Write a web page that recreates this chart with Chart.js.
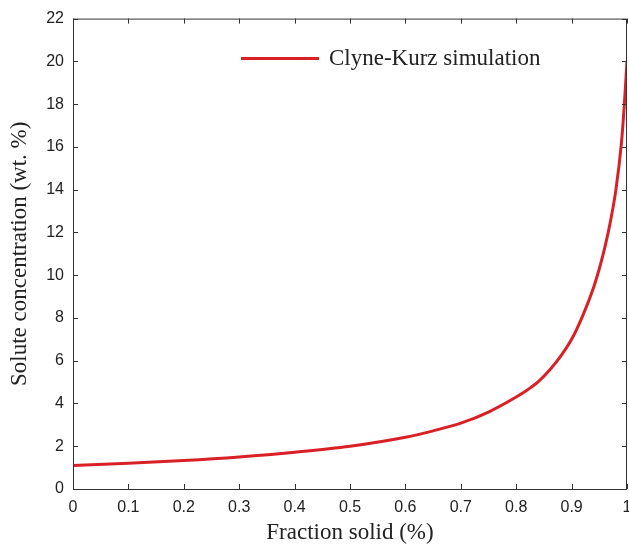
<!DOCTYPE html>
<html>
<head>
<meta charset="utf-8">
<script src="https://cdn.jsdelivr.net/npm/chart.js@4/dist/chart.umd.min.js"></script>
<style>
  html, body { margin: 0; padding: 0; background: #fff; }
  #wrap { width: 629px; height: 544px; }
</style>
</head>
<body>
<div id="wrap"><canvas id="chart"></canvas></div>
<script>
// values
const fractionSolid = [0, 0.1, 0.2, 0.3, 0.4, 0.5, 0.6, 0.65, 0.7, 0.75, 0.8, 0.82, 0.84, 0.86, 0.88, 0.9, 0.92, 0.94, 0.95, 0.96, 0.97, 0.98, 0.99, 0.995, 1.0]
const concentration = [1.1, 1.2, 1.33, 1.5, 1.72, 2.0, 2.42, 2.72, 3.08, 3.6, 4.3, 4.63, 5.02, 5.55, 6.2, 7.0, 8.1, 9.45, 10.3, 11.3, 12.5, 14.0, 16.2, 17.9, 20.0]
const seriesLabel = 'Clyne-Kurz simulation'
const xTitle = 'Fraction solid (%)'
const yTitle = 'Solute concentration (wt. %)'

const lineColor = '#d92027'
const frameColor = '#333'
const tickFont = { family: '"Liberation Sans", Arial, sans-serif', size: 16 }
const titleFont = { family: '"Liberation Serif", serif', size: 23, lineHeight: 1 }

// box around the plot with ticks pointing inward on all four sides
const framePlugin = {
    id: 'frame',
    afterDraw (chart) {
        const { ctx, chartArea: a, scales } = chart
        const len = 5
        ctx.save()
        ctx.strokeStyle = frameColor
        ctx.lineWidth = 1
        ctx.strokeRect(a.left + 0.5, a.top + 0.5, a.right - a.left - 1, a.bottom - a.top)
        ctx.beginPath()
        scales.x.ticks.forEach(t => {
            const px = Math.round(scales.x.getPixelForValue(t.value)) + 0.5
            ctx.moveTo(px, a.bottom); ctx.lineTo(px, a.bottom - len)
            ctx.moveTo(px, a.top); ctx.lineTo(px, a.top + len)
        })
        scales.y.ticks.forEach(t => {
            const py = Math.round(scales.y.getPixelForValue(t.value)) + 0.5
            ctx.moveTo(a.left, py); ctx.lineTo(a.left + len, py)
            ctx.moveTo(a.right, py); ctx.lineTo(a.right - len, py)
        })
        ctx.stroke()

        // legend
        const ds = chart.data.datasets[0]
        const ly = a.top + 40
        ctx.strokeStyle = ds.borderColor
        ctx.lineWidth = 3
        ctx.beginPath()
        ctx.moveTo(a.left + 168, ly)
        ctx.lineTo(a.left + 246, ly)
        ctx.stroke()
        ctx.fillStyle = '#222'
        ctx.font = '23px "Liberation Serif", serif'
        ctx.textBaseline = 'middle'
        ctx.fillText(ds.label, a.left + 256, ly)
        ctx.restore()
    }
}

const ctx = document.getElementById('chart').getContext('2d')
new Chart(ctx, {
    type: 'line',
    data: {
        datasets: [
            {
                label: seriesLabel,
                data: fractionSolid.map((x, i) => ({ x: x, y: concentration[i] })),
                borderColor: lineColor,
                borderWidth: 3,
                pointRadius: 0,
                cubicInterpolationMode: 'monotone',
                fill: false
            }
        ]
    },
    options: {
        responsive: true,
        maintainAspectRatio: false,
        animation: false,
        layout: { padding: { top: 17, right: 2, bottom: 0, left: 0 } },
        plugins: {
            legend: { display: false },
            tooltip: { enabled: false }
        },
        scales: {
            x: {
                type: 'linear',
                min: 0,
                max: 1,
                afterFit: s => { s.height = 55; s.paddingLeft = 0; s.paddingRight = 0 },
                grid: { display: false, drawTicks: false },
                border: { display: false },
                ticks: {
                    stepSize: 0.1,
                    padding: 9,
                    color: '#222',
                    font: tickFont,
                    callback: v => String(Number(v.toFixed(1)))
                },
                title: {
                    display: true,
                    text: xTitle,
                    color: '#222',
                    padding: { top: 0, bottom: 0 },
                    font: titleFont
                }
            },
            y: {
                min: 0,
                max: 22,
                afterFit: s => { s.width = 73 },
                grid: { display: false, drawTicks: false },
                border: { display: false },
                ticks: {
                    stepSize: 2,
                    padding: 9,
                    color: '#222',
                    font: tickFont
                },
                title: {
                    display: true,
                    text: yTitle,
                    color: '#222',
                    padding: { top: 8, bottom: 0 },
                    font: titleFont
                }
            }
        }
    },
    plugins: [framePlugin]
})
</script>
</body>
</html>
